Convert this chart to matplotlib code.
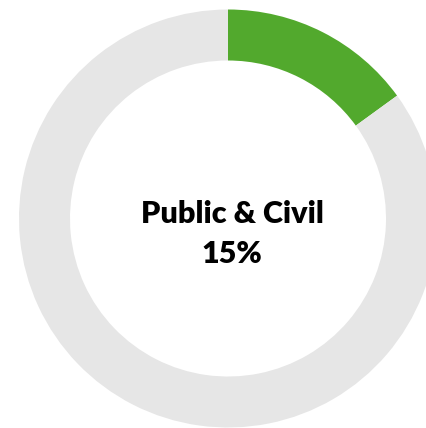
import matplotlib
matplotlib.use("Agg")
import matplotlib.pyplot as plt

# Share of the segment highlighted in the ring
category = "Public & Civil"
share = 15
values = [share, 100 - share]
colors = ["#52A92D", "#E6E6E6"]

W, H = 426, 428
fig = plt.figure(figsize=(W / 100, H / 100), dpi=100)
ax = fig.add_axes([0, 0, 1, 1])

# Axes units are pixels, ring centred at the origin
cx, cy = 228, 218.5
outer_r = 209
ring_w = 51
ax.pie(values, colors=colors, radius=outer_r, startangle=90, counterclock=False,
       wedgeprops=dict(width=ring_w, linewidth=0), frame=True)
ax.set_xlim(-cx, W - cx)
ax.set_ylim(-(H - cy), cy)
ax.set_aspect("auto")
ax.axis("off")

font = dict(family="Lato", weight="heavy", size=22, color="black",
            ha="center", va="baseline")
ax.text(4, -4.2, category, **font)
ax.text(4, -44.8, f"{share}%", **font)

fig.savefig("out.png", dpi=100, facecolor="white")
